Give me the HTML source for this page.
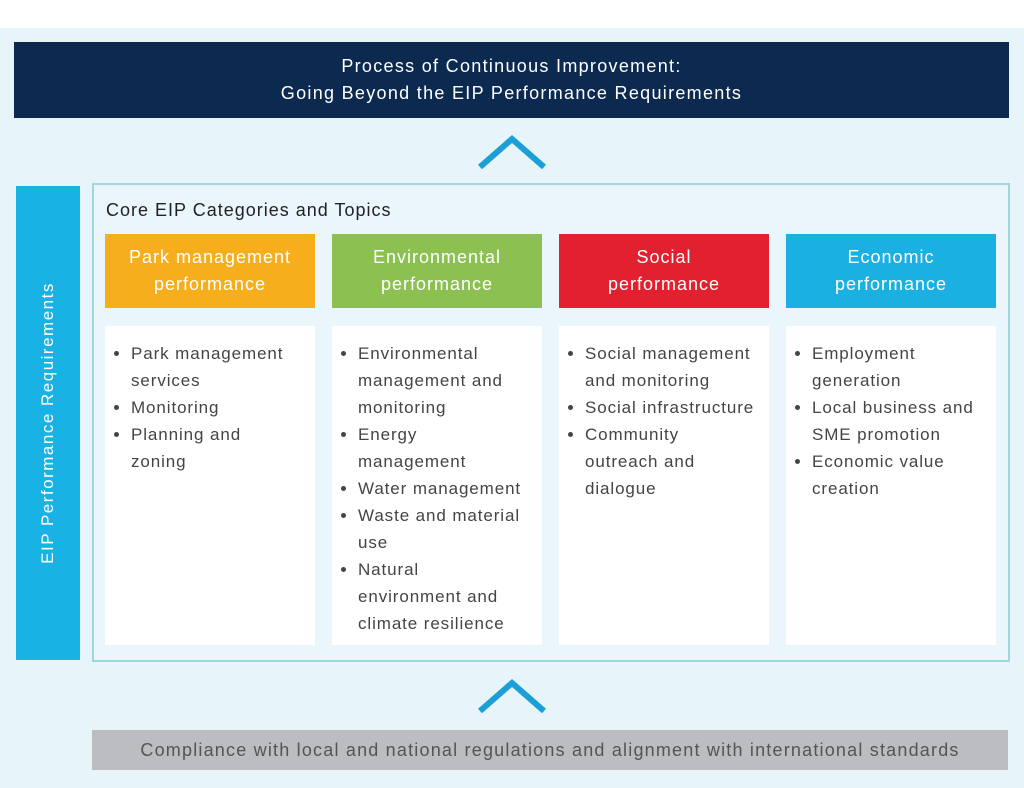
<!DOCTYPE html>
<html><head><style>
body{margin:0;width:1024px;height:788px;background:#fff;position:relative;overflow:hidden;font-family:"Liberation Sans",sans-serif;}
.abs{position:absolute;}
.bg{left:0;top:28px;width:1024px;height:760px;background:#e7f4fa;}
.top{left:14px;top:42px;width:995px;height:76px;background:#0c2a50;color:#fff;font-size:18px;letter-spacing:1.3px;line-height:27px;text-align:center;display:flex;align-items:center;justify-content:center;}
.side{left:16px;top:186px;width:64px;height:474px;background:#19b2e5;}
.side span{position:absolute;left:32px;top:237px;transform:translate(-50%,-50%) rotate(-90deg);white-space:nowrap;color:#fff;font-size:17px;letter-spacing:1.5px;}
.inner{left:92px;top:183px;width:914px;height:475px;border:2px solid #9fd8dc;background:#eaf6fb;}
.title{left:106px;top:200px;font-size:18px;letter-spacing:1px;color:#222;}
.hd{top:234px;width:210px;height:74px;color:#fff;font-size:18px;letter-spacing:1px;line-height:27px;text-align:center;display:flex;align-items:center;justify-content:center;}
.bx{top:326px;width:210px;height:319px;background:#fff;}
.bx ul{margin:0;padding:14px 0 0 26px;font-size:17px;letter-spacing:0.9px;line-height:27px;color:#444;white-space:nowrap;}
.gray{left:92px;top:730px;width:916px;height:40px;background:#bbbdc0;color:#555;font-size:18px;letter-spacing:1.2px;text-align:center;line-height:40px;white-space:nowrap;}
</style></head><body>
<div class="abs bg"></div>
<div class="abs top"><div>Process of Continuous Improvement:<br>Going Beyond the EIP Performance Requirements</div></div>
<svg class="abs" style="left:476px;top:135px" width="72" height="36"><polyline points="4,32 36,4 68,32" fill="none" stroke="#1a9fd6" stroke-width="6"/></svg>
<div class="abs side"><span>EIP Performance Requirements</span></div>
<div class="abs inner"></div>
<div class="abs title">Core EIP Categories and Topics</div>
<div class="abs hd" style="left:105px;background:#f6ae1d">Park management<br>performance</div>
<div class="abs hd" style="left:332px;background:#8cc152">Environmental<br>performance</div>
<div class="abs hd" style="left:559px;background:#e2202f">Social<br>performance</div>
<div class="abs hd" style="left:786px;background:#1ab0e2">Economic<br>performance</div>
<div class="abs bx" style="left:105px"><ul><li>Park management<br>services</li><li>Monitoring</li><li>Planning and<br>zoning</li></ul></div>
<div class="abs bx" style="left:332px"><ul><li>Environmental<br>management and<br>monitoring</li><li>Energy<br>management</li><li>Water management</li><li>Waste and material<br>use</li><li>Natural<br>environment and<br>climate resilience</li></ul></div>
<div class="abs bx" style="left:559px"><ul><li>Social management<br>and monitoring</li><li>Social infrastructure</li><li>Community<br>outreach and<br>dialogue</li></ul></div>
<div class="abs bx" style="left:786px"><ul><li>Employment<br>generation</li><li>Local business and<br>SME promotion</li><li>Economic value<br>creation</li></ul></div>
<svg class="abs" style="left:476px;top:679px" width="72" height="36"><polyline points="4,32 36,4 68,32" fill="none" stroke="#1a9fd6" stroke-width="6"/></svg>
<div class="abs gray">Compliance with local and national regulations and alignment with international standards</div>
</body></html>
